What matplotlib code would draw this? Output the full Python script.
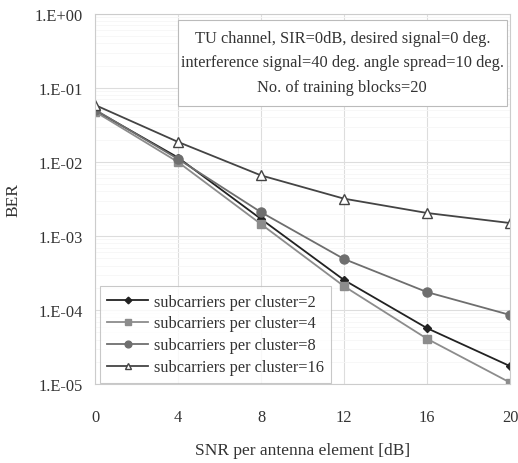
import matplotlib.pyplot as plt
from matplotlib.patches import Rectangle
from matplotlib.ticker import FixedLocator, FuncFormatter

plt.rcParams["font.family"] = ["Liberation Serif", "DejaVu Serif"]

snr = [0, 4, 8, 12, 16, 20]
ber_2 = [0.050, 0.0115, 1.7e-3, 2.55e-4, 5.7e-5, 1.75e-5]
ber_4 = [0.048, 0.0100, 1.45e-3, 2.1e-4, 4.1e-5, 1.05e-5]
ber_8 = [0.051, 0.0110, 2.1e-3, 4.9e-4, 1.75e-4, 8.6e-5]
ber_16 = [0.059, 0.0187, 6.6e-3, 3.2e-3, 2.05e-3, 1.5e-3]

labels = ["subcarriers per cluster=2", "subcarriers per cluster=4",
          "subcarriers per cluster=8", "subcarriers per cluster=16"]
y_ticks = [1e0, 1e-1, 1e-2, 1e-3, 1e-4, 1e-5]
y_tick_labels = ["1.E+00", "1.E-01", "1.E-02", "1.E-03", "1.E-04", "1.E-05"]
info_lines = ["TU channel, SIR=0dB, desired signal=0 deg.",
              "interference signal=40 deg. angle spread=10 deg.",
              "No. of training blocks=20"]

fig = plt.figure(figsize=(5.18, 4.64), dpi=100)
ax = fig.add_axes([0.1834, 0.170, 0.8012, 0.7977])

ax.plot(snr, ber_2, color="#222222", lw=1.3, marker="D", ms=4.5,
        mfc="#222222", mec="#222222", label=labels[0])
ax.plot(snr, ber_4, color="#8c8c8c", lw=1.3, marker="s", ms=6,
        mfc="#8c8c8c", mec="#8c8c8c", label=labels[1])
ax.plot(snr, ber_8, color="#6e6e6e", lw=1.3, marker="o", ms=6.5,
        mfc="#6e6e6e", mec="#6e6e6e", label=labels[2])
ax.plot(snr, ber_16, color="#444444", lw=1.3, marker="^", ms=6.5,
        mfc="white", mec="#444444", label=labels[3])

ax.set_yscale("log")
ax.set_xlim(0, 20)
ax.set_ylim(1e-5, 1)
ax.set_xticks(snr)
ax.yaxis.set_major_locator(FixedLocator(y_ticks))
ax.yaxis.set_major_formatter(FuncFormatter(
    lambda v, p: y_tick_labels[y_ticks.index(min(y_ticks, key=lambda t: abs(t - v)))]))
ax.tick_params(axis="both", which="both", length=0, labelsize=11.8,
               colors="#333333")
ax.tick_params(axis="x", pad=18)
ax.tick_params(axis="y", pad=9)

ax.grid(True, which="major", color="#dddddd", lw=0.8)
ax.grid(True, which="minor", axis="y", color="#f6f6f6", lw=0.6)
for s in ax.spines.values():
    s.set_color("#cccccc")
    s.set_linewidth(0.8)

ax.set_xlabel("SNR per antenna element [dB]", fontsize=12.5, color="#333333",
              labelpad=12)
ax.set_ylabel("BER", fontsize=12.5, color="#333333", labelpad=9)

# parameter box in the upper right
ax.add_patch(Rectangle((0.2, 0.751), 0.793, 0.233, transform=ax.transAxes,
                       facecolor="white", edgecolor="#bbbbbb", lw=0.8,
                       zorder=3))
for y, line in zip([0.935, 0.870, 0.803], info_lines):
    ax.text(0.596, y, line, transform=ax.transAxes, ha="center", va="center",
            fontsize=11.8, color="#333333", zorder=4)

leg = ax.legend(loc="lower left", bbox_to_anchor=(0.012, 0.004),
                borderaxespad=0, fancybox=False, fontsize=11.8,
                handlelength=2.5, labelspacing=0.36, borderpad=0.45,
                handletextpad=0.35, markerscale=0.75)
leg.get_frame().set_edgecolor("#bbbbbb")
leg.get_frame().set_linewidth(0.8)
for t in leg.get_texts():
    t.set_color("#333333")

fig.savefig("out.png", dpi=100, facecolor="white")
